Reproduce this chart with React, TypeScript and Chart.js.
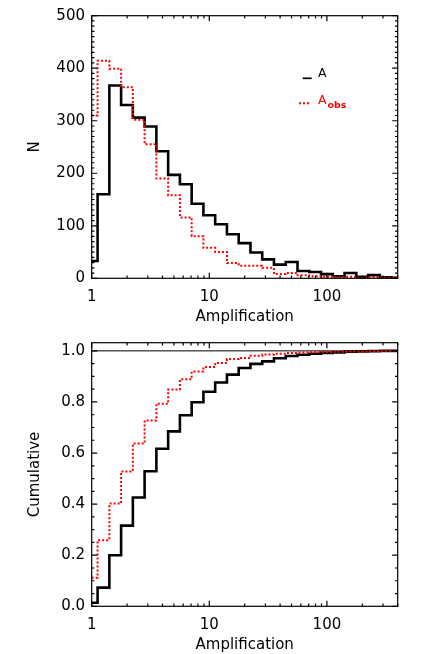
import React, { useEffect, useRef } from "react";
import { Chart, registerables } from "chart.js";

Chart.register(...registerables);

// ---- data ----
const binCenters = [1, 1.259, 1.585, 1.995, 2.512, 3.162, 3.981, 5.012, 6.31, 7.943, 10, 12.59, 15.85, 19.95, 25.12, 31.62, 39.81, 50.12, 63.1, 79.43, 100, 125.9, 158.5, 199.5, 251.2, 316.2, 398.1];
const countsA = [33, 160, 367, 330, 306, 289, 242, 197, 179, 142, 120, 103, 84, 67, 49, 36, 26, 31, 14, 12, 8, 4, 10, 3, 6, 2, 1];
const countsAobs = [310, 414, 399, 364, 302, 255, 190, 158, 116, 80, 58, 50, 29, 24, 24, 20, 8, 10, 6, 4, 3, 2, 3, 1, 2, 1, 1];
const cumA = [0.014, 0.073, 0.2, 0.316, 0.426, 0.529, 0.617, 0.685, 0.748, 0.799, 0.84, 0.876, 0.907, 0.933, 0.949, 0.959, 0.971, 0.98, 0.985, 0.989, 0.992, 0.994, 0.997, 0.998, 0.999, 1.0, 1.0];
const cumAobs = [0.112, 0.259, 0.402, 0.528, 0.637, 0.727, 0.793, 0.849, 0.889, 0.919, 0.937, 0.953, 0.968, 0.972, 0.981, 0.986, 0.989, 0.992, 0.994, 0.995, 0.996, 0.997, 0.998, 0.998, 0.999, 1.0, 1.0];

const xTickLabels = [1, 10, 100];
const xMinorTicks = [2, 3, 4, 5, 6, 7, 8, 9, 20, 30, 40, 50, 60, 70, 80, 90, 200, 300, 400];
const yTicksN = [0, 100, 200, 300, 400, 500];
const yTicksCum = [0, 0.2, 0.4, 0.6, 0.8, 1.0];

const FONT = "'DejaVu Sans', sans-serif";
const W = 436;
const H = 327;

function framePlugin(yMajor: number[], yMinorStep: number, unityLine: boolean, legend: boolean) {
  return {
    id: "frameTicks",
    beforeDatasetsDraw(chart: any) {
      if (!unityLine) return;
      const { ctx, chartArea: a, scales } = chart;
      const y = scales.y.getPixelForValue(1);
      ctx.save();
      ctx.strokeStyle = "#000";
      ctx.lineWidth = 1;
      ctx.beginPath();
      ctx.moveTo(a.left, y);
      ctx.lineTo(a.right, y);
      ctx.stroke();
      ctx.restore();
    },
    afterDatasetsDraw(chart: any) {
      const { ctx, chartArea: a, scales } = chart;
      const xs = scales.x;
      const ys = scales.y;
      ctx.save();
      ctx.strokeStyle = "#000";
      ctx.lineWidth = 1.2;
      ctx.setLineDash([]);
      ctx.strokeRect(a.left, a.top, a.right - a.left, a.bottom - a.top);
      ctx.beginPath();
      const xt = (v: number, len: number) => {
        const px = xs.getPixelForValue(v);
        if (px < a.left - 0.5 || px > a.right + 0.5) return;
        ctx.moveTo(px, a.bottom);
        ctx.lineTo(px, a.bottom - len);
        ctx.moveTo(px, a.top);
        ctx.lineTo(px, a.top + len);
      };
      const yt = (v: number, len: number) => {
        const py = ys.getPixelForValue(v);
        ctx.moveTo(a.left, py);
        ctx.lineTo(a.left + len, py);
        ctx.moveTo(a.right, py);
        ctx.lineTo(a.right - len, py);
      };
      xTickLabels.forEach((v) => xt(v, 5.5));
      xMinorTicks.forEach((v) => xt(v, 2.7));
      yMajor.forEach((v) => yt(v, 5.5));
      const lo = yMajor[0];
      const hi = yMajor[yMajor.length - 1];
      const n = Math.round((hi - lo) / yMinorStep);
      for (let i = 0; i <= n; i++) {
        const v = lo + i * yMinorStep;
        if (yMajor.some((m) => Math.abs(m - v) < yMinorStep / 10)) continue;
        yt(v, 2.7);
      }
      ctx.stroke();

      if (legend) {
        ctx.lineWidth = 1.7;
        ctx.beginPath();
        ctx.moveTo(302.7, 78.3);
        ctx.lineTo(311.7, 78.3);
        ctx.stroke();
        ctx.fillStyle = "#000";
        ctx.textBaseline = "middle";
        ctx.textAlign = "left";
        ctx.font = `12.5px ${FONT}`;
        ctx.fillText("A", 318, 74);
        ctx.strokeStyle = "#ff0000";
        ctx.lineWidth = 2;
        ctx.setLineDash([2, 2]);
        ctx.beginPath();
        ctx.moveTo(299, 103.3);
        ctx.lineTo(311, 103.3);
        ctx.stroke();
        ctx.setLineDash([]);
        ctx.fillStyle = "#ff0000";
        ctx.fillText("A", 318, 100.7);
        ctx.font = `bold 9.5px ${FONT}`;
        ctx.fillText("obs", 327.5, 105.5);
      }
      ctx.restore();
    },
  };
}

function stepSet(values: number[], color: string, width: number, dash: number[]) {
  return {
    data: binCenters.map((x, i) => ({ x, y: values[i] })),
    borderColor: color,
    borderWidth: width,
    borderDash: dash,
    stepped: "middle" as const,
    pointRadius: 0,
    fill: false,
  };
}

function makeOptions(opts: {
  yMin: number;
  yMax: number;
  yTicks: number[];
  yTitle: string;
  yFmt: (v: number) => string;
  top: number;
  bottom: number;
  titlePad: number;
}) {
  const tickFont = { family: FONT, size: 15 };
  return {
    responsive: false,
    animation: false,
    events: [],
    layout: { padding: { top: opts.top, right: 38.3, left: 0, bottom: 0 } },
    plugins: { legend: { display: false }, tooltip: { enabled: false } },
    scales: {
      x: {
        type: "logarithmic",
        min: 1,
        max: 400,
        grid: { display: false, drawTicks: false },
        border: { display: false },
        afterBuildTicks: (s: any) => {
          s.ticks = xTickLabels.map((v) => ({ value: v }));
        },
        afterFit: (s: any) => {
          s.height = H - opts.bottom;
        },
        ticks: {
          font: tickFont,
          color: "#000",
          padding: 9.5,
          maxRotation: 0,
          autoSkip: false,
          callback: (v: any) => String(v),
        },
        title: {
          display: true,
          text: "Amplification",
          font: tickFont,
          color: "#000",
          padding: { top: 0, bottom: opts.titlePad },
        },
      },
      y: {
        type: "linear",
        min: opts.yMin,
        max: opts.yMax,
        grid: { display: false, drawTicks: false },
        border: { display: false },
        afterBuildTicks: (s: any) => {
          s.ticks = opts.yTicks.map((v) => ({ value: v }));
        },
        afterFit: (s: any) => {
          s.width = 91.7;
        },
        ticks: {
          font: tickFont,
          color: "#000",
          padding: 6.7,
          autoSkip: false,
          callback: (v: any) => opts.yFmt(Number(v)),
        },
        title: {
          display: true,
          text: opts.yTitle,
          font: tickFont,
          color: "#000",
          padding: { top: 26, bottom: 0 },
        },
      },
    },
  };
}

export default function App() {
  const topRef = useRef<HTMLCanvasElement>(null);
  const botRef = useRef<HTMLCanvasElement>(null);

  useEffect(() => {
    const c1 = new Chart(topRef.current as HTMLCanvasElement, {
      type: "line",
      data: {
        datasets: [
          stepSet(countsAobs, "#ff0000", 2, [2, 2]),
          stepSet(countsA, "#000000", 2.6, []),
        ],
      },
      options: makeOptions({
        yMin: 0,
        yMax: 500,
        yTicks: yTicksN,
        yTitle: "N",
        yFmt: (v) => String(Math.round(v)),
        top: 12.3,
        bottom: 278.3,
        titlePad: 1.3,
      }) as any,
      plugins: [framePlugin(yTicksN, 10, false, true)],
    });
    const c2 = new Chart(botRef.current as HTMLCanvasElement, {
      type: "line",
      data: {
        datasets: [
          stepSet(cumAobs, "#ff0000", 2, [2, 2]),
          stepSet(cumA, "#000000", 2.6, []),
        ],
      },
      options: makeOptions({
        yMin: 0,
        yMax: 1.032,
        yTicks: yTicksCum,
        yTitle: "Cumulative",
        yFmt: (v) => v.toFixed(1),
        top: 11.3,
        bottom: 279.3,
        titlePad: 0,
      }) as any,
      plugins: [framePlugin(yTicksCum, 0.05, true, false)],
    });
    return () => {
      c1.destroy();
      c2.destroy();
    };
  }, []);

  return (
    <div style={{ position: "absolute", left: 0, top: 0, width: W, height: 2 * H, background: "#fff" }}>
      <canvas ref={topRef} width={W} height={H} style={{ position: "absolute", left: 0, top: 0, width: W, height: H }} />
      <canvas ref={botRef} width={W} height={H} style={{ position: "absolute", left: 0, top: H, width: W, height: H }} />
    </div>
  );
}
